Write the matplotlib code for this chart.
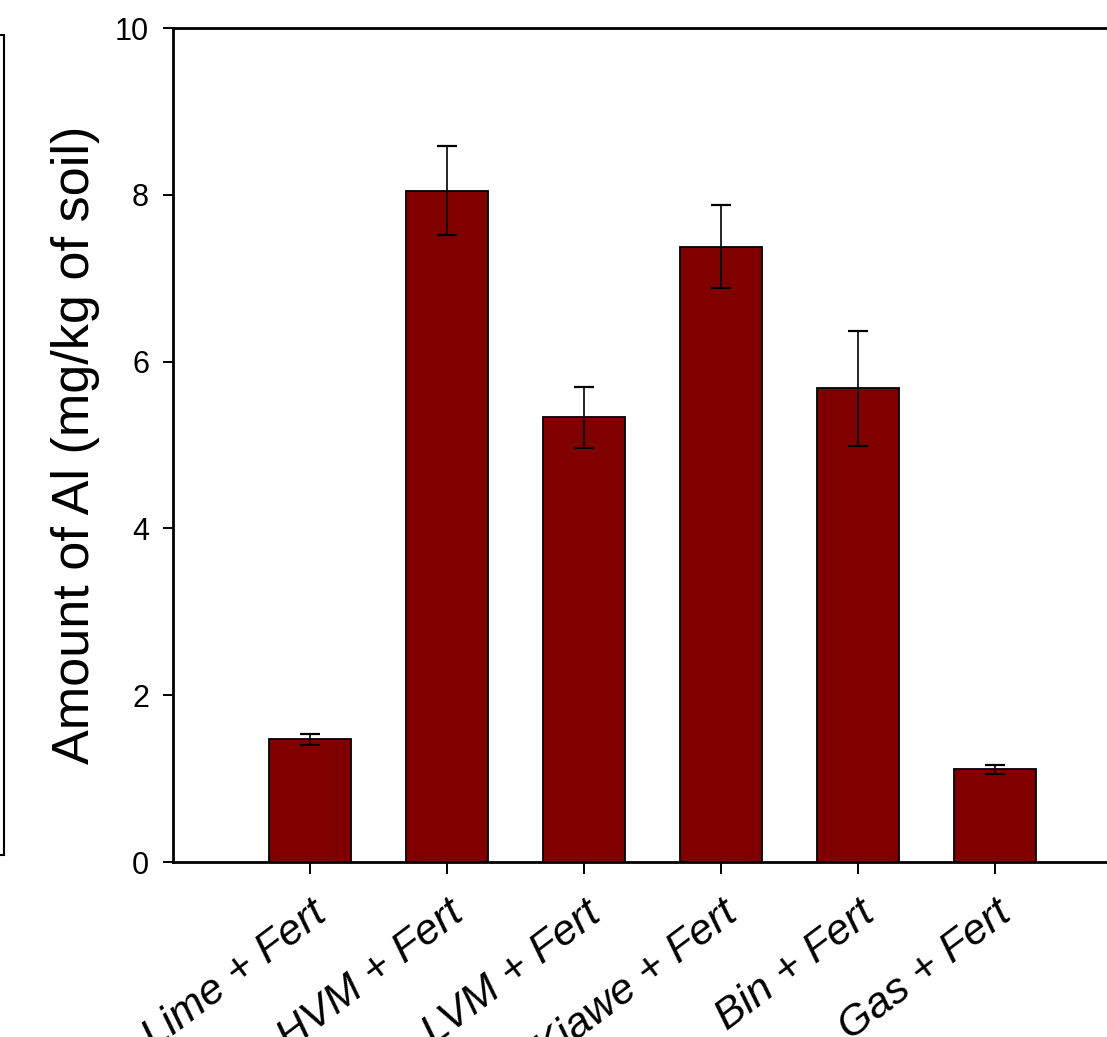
import matplotlib.pyplot as plt
from matplotlib.patches import Rectangle

treatments = ['Lime + Fert', 'HVM + Fert', 'LVM + Fert', 'Kiawe + Fert', 'Bin + Fert', 'Gas + Fert']
al_mean = [1.47, 8.05, 5.33, 7.38, 5.68, 1.11]
al_err = [0.07, 0.53, 0.37, 0.50, 0.69, 0.05]

fig = plt.figure(figsize=(11.07, 10.37), dpi=100)
ax = fig.add_axes([173 / 1107, 1 - 862 / 1037, 7 * 137 / 1107, 834 / 1037])

x = list(range(1, len(treatments) + 1))
ax.bar(x, al_mean, width=0.6, color='#800000', edgecolor='black', linewidth=1.3,
       yerr=al_err, capsize=7, error_kw={'elinewidth': 1.2, 'capthick': 1.6, 'ecolor': 'black'})

ax.set_xlim(0, 7)
ax.set_ylim(0, 10)
ax.set_yticks([0, 2, 4, 6, 8, 10])
ax.set_yticklabels(['0', '2', '4', '6', '8', '10'],
                   family=['Liberation Sans Narrow', 'Liberation Sans'], fontsize=22)
ax.set_xticks(x)
ax.set_xticklabels(treatments, rotation=37, ha='right', va='top', rotation_mode='anchor',
                   family=['Liberation Sans', 'DejaVu Sans'], fontsize=31, style='italic')
ax.tick_params(axis='y', direction='out', length=7.2, width=1.4, pad=10)
ax.tick_params(axis='x', direction='out', length=8.6, width=1.4, pad=14)

for s in ['left', 'bottom', 'top']:
    ax.spines[s].set_linewidth(2)
ax.spines['right'].set_visible(False)

ax.set_ylabel('Amount of Al (mg/kg of soil)', family=['Liberation Sans', 'DejaVu Sans'],
              fontsize=37.5)
ax.yaxis.set_label_coords((100 - 173) / (7 * 137), 0.5)

# edge of the box on the far left
fig.add_artist(Rectangle((-0.5, 1 - 855 / 1037), 0.5 + 4 / 1107, 820 / 1037,
                         transform=fig.transFigure, fill=False, edgecolor='black', linewidth=1.5))

fig.savefig('out.png', dpi=100)
